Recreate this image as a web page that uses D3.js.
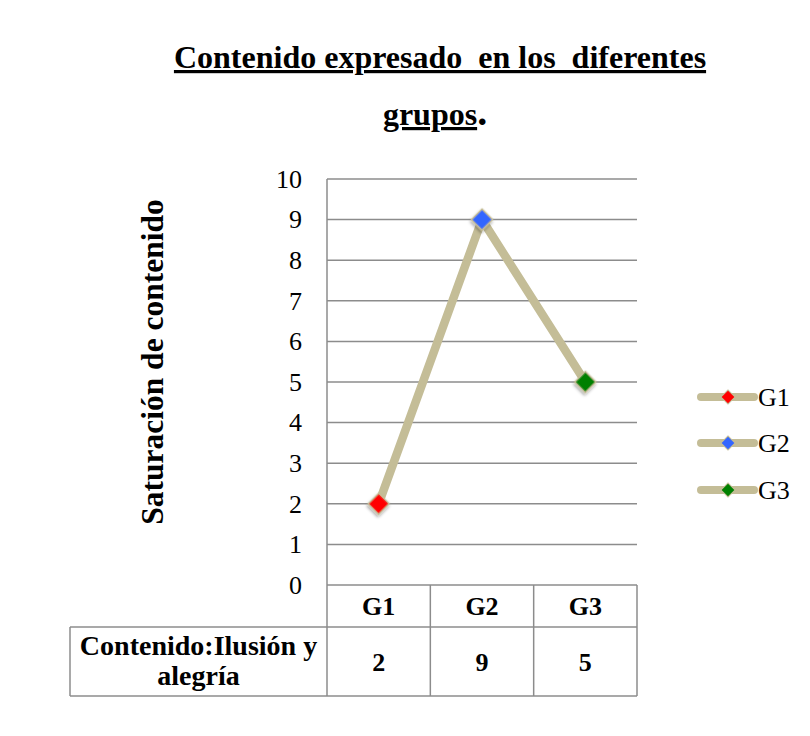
<!DOCTYPE html>
<html><head><meta charset="utf-8">
<script src="https://cdn.jsdelivr.net/npm/d3@7"></script>
<style>body{margin:0;background:#fff}</style>
</head><body>
<svg id="chart" width="810" height="736"></svg>
<script>
const categories = ["G1", "G2", "G3"];
const values = [2, 9, 5];
const markerColors = ["#ff0000", "#3366ff", "#008000"];
const yTicks = [0,1,2,3,4,5,6,7,8,9,10];
const seriesName = "Contenido:Ilusión y alegría";
const titleLines = ["Contenido expresado\u00a0 en los\u00a0 diferentes", "grupos"];

(function(){
const svg = d3.select("#chart");
const pLeft = 327, pRight = 637, pTop = 179, pBottom = 585;
const x = d3.scaleBand().domain(categories).range([pLeft, pRight]);
const y = d3.scaleLinear().domain([0, 10]).range([pBottom, pTop]);

const defs = svg.append("defs");
const f = defs.append("filter").attr("id","sh").attr("x","-50%").attr("y","-50%").attr("width","200%").attr("height","200%");
f.append("feDropShadow").attr("dx",1).attr("dy",2).attr("stdDeviation",1.5).attr("flood-color","#000").attr("flood-opacity",0.35);

// title
const serif = "'Liberation Serif', 'Times New Roman', serif";
svg.append("text").attr("x", 440).attr("y", 68).attr("text-anchor","middle")
  .attr("font-family", serif).attr("font-weight","bold").attr("font-size",32)
  .attr("text-decoration","underline").text(titleLines[0]);
const t2 = svg.append("text").attr("x", 435).attr("y", 125).attr("text-anchor","middle")
  .attr("font-family", serif).attr("font-weight","bold").attr("font-size",32);
t2.append("tspan").attr("text-decoration","underline").text(titleLines[1]);
t2.append("tspan").attr("font-size",40).text(".");

// gridlines
svg.append("g").selectAll("line").data(yTicks).join("line")
  .attr("x1", pLeft).attr("x2", pRight).attr("y1", d=>y(d)).attr("y2", d=>y(d))
  .attr("stroke","#8c8c8c").attr("stroke-width",1.5);

// y axis tick labels
const yAxis = d3.axisLeft(y).tickValues(yTicks).tickSize(0).tickPadding(25);
const ga = svg.append("g").attr("transform",`translate(${pLeft},0)`).call(yAxis);
ga.select(".domain").remove();
ga.selectAll("text").attr("font-family","'Liberation Serif', serif").attr("font-size",26).attr("fill","#000");

// vertical axis line
svg.append("line").attr("x1",pLeft).attr("x2",pLeft).attr("y1",pTop).attr("y2",696)
  .attr("stroke","#8c8c8c").attr("stroke-width",1.5);

// y label
svg.append("text").attr("transform","translate(163,362) rotate(-90)").attr("text-anchor","middle")
  .attr("font-family", serif).attr("font-weight","bold").attr("font-size",31.5).text("Saturación de contenido");

// data table
const tableFont = "'Liberation Serif', serif";
const rowTop = 627, rowBottom = 696, tableLeft = 70;
const tg = svg.append("g").attr("stroke","#8c8c8c").attr("stroke-width",1.5).attr("fill","none");
tg.append("line").attr("x1",pLeft).attr("x2",pRight).attr("y1",rowTop).attr("y2",rowTop);
tg.append("line").attr("x1",tableLeft).attr("x2",pLeft).attr("y1",rowTop).attr("y2",rowTop);
tg.append("line").attr("x1",tableLeft).attr("x2",pRight).attr("y1",rowBottom).attr("y2",rowBottom);
tg.append("line").attr("x1",tableLeft).attr("x2",tableLeft).attr("y1",rowTop).attr("y2",rowBottom);
tg.selectAll("line.v").data(categories).join("line").attr("class","v")
  .attr("x1",d=>x(d)+x.bandwidth()).attr("x2",d=>x(d)+x.bandwidth()).attr("y1",pBottom).attr("y2",rowBottom);

svg.append("g").selectAll("text").data(categories).join("text")
  .attr("x",d=>x(d)+x.bandwidth()/2).attr("y",615).attr("text-anchor","middle")
  .attr("font-family",tableFont).attr("font-weight","bold").attr("font-size",26).text(d=>d);
svg.append("g").selectAll("text").data(values).join("text")
  .attr("x",(d,i)=>x(categories[i])+x.bandwidth()/2).attr("y",671).attr("text-anchor","middle")
  .attr("font-family",tableFont).attr("font-weight","bold").attr("font-size",26).text(d=>d);
const nameParts = ["Contenido:Ilusión y", "alegría"];
const cx = (tableLeft + pLeft) / 2;
svg.append("text").attr("x",cx).attr("y",655).attr("text-anchor","middle").attr("font-family",tableFont).attr("font-weight","bold").attr("font-size",28).text(nameParts[0]);
svg.append("text").attr("x",cx).attr("y",685).attr("text-anchor","middle").attr("font-family",tableFont).attr("font-weight","bold").attr("font-size",28).text(nameParts[1]);

// line
const pts = categories.map((c,i)=>[x(c)+x.bandwidth()/2, y(values[i])]);
svg.append("path").attr("d", d3.line()(pts)).attr("fill","none")
  .attr("stroke","#c4bd97").attr("stroke-width",8.5).attr("stroke-linejoin","round");
svg.append("g").selectAll("path").data(pts).join("path")
  .attr("transform",d=>`translate(${d[0]},${d[1]}) rotate(45)`)
  .attr("d", d3.symbol().type(d3.symbolSquare).size(220))
  .attr("fill",(d,i)=>markerColors[i]).attr("stroke","#c4bd97").attr("stroke-width",1.5)
  .attr("filter","url(#sh)");

// legend
const legY = [397, 443, 490];
const lg = svg.append("g").selectAll("g").data(categories).join("g")
  .attr("transform",(d,i)=>`translate(0,${legY[i]})`);
lg.append("line").attr("x1",701).attr("x2",754).attr("y1",0).attr("y2",0)
  .attr("stroke","#c4bd97").attr("stroke-width",8).attr("stroke-linecap","round");
lg.append("path").attr("transform","translate(728,0) rotate(45)")
  .attr("d", d3.symbol().type(d3.symbolSquare).size(100))
  .attr("fill",(d,i)=>markerColors[i]).attr("stroke","#c4bd97").attr("stroke-width",1);
lg.append("text").attr("x",758).attr("y",9).attr("font-family","'Liberation Serif', serif")
  .attr("font-size",26).text(d=>d);
})();
</script>
</body></html>
